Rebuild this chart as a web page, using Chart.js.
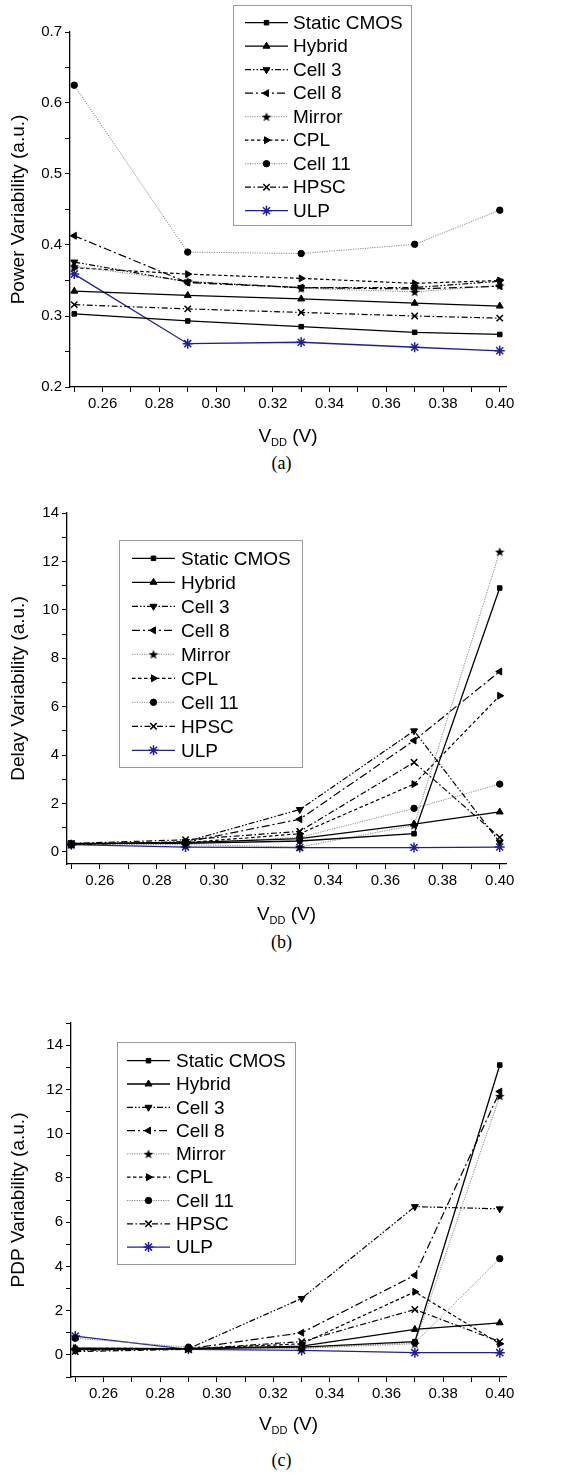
<!DOCTYPE html>
<html>
<head>
<meta charset="utf-8">
<script src="https://cdn.jsdelivr.net/npm/chart.js@4.4.0/dist/chart.umd.min.js"></script>
<style>
  body { margin: 0; background: #fff; width: 563px; height: 1484px; position: relative; overflow: hidden; }
  canvas { position: absolute; left: 0; }
  .caption { position: absolute; left: 0; width: 563px; text-align: center; font-family: "Liberation Serif", "Times New Roman", serif; font-size: 18px; line-height: 20px; }
</style>
</head>
<body>
<canvas id="powerChart" width="563" height="450" style="top:0"></canvas>
<div class="caption" style="top:453px">(a)</div>
<canvas id="delayChart" width="563" height="450" style="top:480px"></canvas>
<div class="caption" style="top:932px">(b)</div>
<canvas id="pdpChart" width="563" height="450" style="top:990px"></canvas>
<div class="caption" style="top:1450px">(c)</div>
<script>
const seriesNames = ["Static CMOS", "Hybrid", "Cell 3", "Cell 8", "Mirror", "CPL", "Cell 11", "HPSC", "ULP"];
const vdd = [0.25, 0.29, 0.33, 0.37, 0.40];

const vddTicks = [0.25, 0.26, 0.27, 0.28, 0.29, 0.30, 0.31, 0.32, 0.33, 0.34, 0.35, 0.36, 0.37, 0.38, 0.39, 0.40];
const vddTickLabels = ["", "0.26", "", "0.28", "", "0.30", "", "0.32", "", "0.34", "", "0.36", "", "0.38", "", "0.40"];

const powerTicks = [0.2, 0.25, 0.3, 0.35, 0.4, 0.45, 0.5, 0.55, 0.6, 0.65, 0.7];
const powerTickLabels = ["0.2", "", "0.3", "", "0.4", "", "0.5", "", "0.6", "", "0.7"];
const delayTicks = [0, 1, 2, 3, 4, 5, 6, 7, 8, 9, 10, 11, 12, 13, 14];
const delayTickLabels = ["0", "", "2", "", "4", "", "6", "", "8", "", "10", "", "12", "", "14"];
const pdpTicks = [-1, 0, 1, 2, 3, 4, 5, 6, 7, 8, 9, 10, 11, 12, 13, 14, 15];
const pdpTickLabels = ["", "0", "", "2", "", "4", "", "6", "", "8", "", "10", "", "12", "", "14", ""];

// power variability
const powerStaticCmos = [0.303, 0.293, 0.285, 0.277, 0.274];
const powerHybrid = [0.335, 0.329, 0.324, 0.318, 0.314];
const powerCell3 = [0.376, 0.348, 0.340, 0.340, 0.349];
const powerCell8 = [0.413, 0.347, 0.340, 0.338, 0.342];
const powerMirror = [0.370, 0.349, 0.339, 0.334, 0.343];
const powerCpl = [0.368, 0.359, 0.353, 0.346, 0.350];
const powerCell11 = [0.625, 0.390, 0.388, 0.401, 0.449];
const powerHpsc = [0.316, 0.310, 0.305, 0.300, 0.297];
const powerUlp = [0.359, 0.261, 0.263, 0.256, 0.251];

// delay variability
const delayStaticCmos = [0.35, 0.35, 0.45, 0.75, 10.9];
const delayHybrid = [0.33, 0.38, 0.55, 1.15, 1.65];
const delayCell3 = [0.30, 0.42, 1.75, 5.0, 0.4];
const delayCell8 = [0.32, 0.40, 1.35, 4.6, 7.45];
const delayMirror = [0.30, 0.30, 0.20, 1.1, 12.4];
const delayCpl = [0.33, 0.38, 0.75, 2.8, 6.45];
const delayCell11 = [0.30, 0.35, 0.60, 1.8, 2.8];
const delayHpsc = [0.35, 0.50, 0.85, 3.7, 0.6];
const delayUlp = [0.30, 0.20, 0.18, 0.18, 0.20];

// PDP variability
const pdpStaticCmos = [0.25, 0.28, 0.35, 0.6, 13.1];
const pdpHybrid = [0.30, 0.28, 0.40, 1.15, 1.45];
const pdpCell3 = [0.20, 0.28, 2.55, 6.7, 6.6];
const pdpCell8 = [0.25, 0.28, 1.0, 3.6, 11.9];
const pdpMirror = [0.25, 0.30, 0.30, 0.5, 11.7];
const pdpCpl = [0.30, 0.28, 0.50, 2.85, 0.5];
const pdpCell11 = [0.75, 0.35, 0.30, 0.55, 4.35];
const pdpHpsc = [0.15, 0.25, 0.60, 2.05, 0.6];
const pdpUlp = [0.85, 0.25, 0.20, 0.10, 0.10];

const family = "'Liberation Sans', Arial, sans-serif";

// filled five-point star used as the Mirror marker
const makeStar = (size) => {
  const c = document.createElement("canvas");
  c.width = size;
  c.height = size;
  const g = c.getContext("2d");
  const r = size / 2;
  g.beginPath();
  for (let i = 0; i < 10; i++) {
    const a = -Math.PI / 2 + (i * Math.PI) / 5;
    const rr = i % 2 ? r * 0.42 : r;
    g.lineTo(r + rr * Math.cos(a), r + 0.5 + rr * Math.sin(a));
  }
  g.closePath();
  g.fillStyle = "#000";
  g.fill();
  return c;
};
const starMarker = makeStar(10);

const seriesStyles = [
  { color: "#000", dash: [], width: 1.3, point: "rect", rot: 0, radius: 3.2 },
  { color: "#000", dash: [], width: 1.3, point: "triangle", rot: 0, radius: 4 },
  { color: "#000", dash: [6, 2, 1.5, 2, 1.5, 2], width: 1.2, point: "triangle", rot: 180, radius: 4 },
  { color: "#000", dash: [8, 3, 2, 3], width: 1.2, point: "triangle", rot: 270, radius: 4 },
  { color: "#888", dash: [1.2, 1.2], width: 1, point: starMarker, rot: 0, radius: 5 },
  { color: "#000", dash: [3.5, 2.5], width: 1.2, point: "triangle", rot: 90, radius: 4 },
  { color: "#888", dash: [1.2, 1.2], width: 1, point: "circle", rot: 0, radius: 3.2 },
  { color: "#000", dash: [6, 2.5, 1.5, 2.5], width: 1.2, point: "crossRot", rot: 0, radius: 4.5 },
  { color: "#1f1f9c", dash: [], width: 1.3, point: "star", rot: 0, radius: 5 },
];

const makeDatasets = (series) =>
  series.map((values, i) => {
    const s = seriesStyles[i];
    const markColor = i === 8 ? s.color : "#000";
    return {
      label: seriesNames[i],
      data: vdd.map((x, j) => ({ x, y: values[j] })),
      borderColor: s.color,
      borderWidth: s.width,
      borderDash: s.dash,
      pointStyle: s.point,
      pointRotation: s.rot,
      pointRadius: s.radius,
      pointBorderColor: markColor,
      pointBackgroundColor: markColor,
      pointBorderWidth: i >= 7 ? 1.5 : 1,
      tension: 0,
      fill: false,
      clip: false,
    };
  });

const boxLegend = {
  id: "boxLegend",
  afterDraw(chart, args, o) {
    const { ctx } = chart;
    ctx.save();
    ctx.fillStyle = "#fff";
    ctx.fillRect(o.x, o.y, o.w, o.h);
    ctx.strokeStyle = "#9a9a9a";
    ctx.lineWidth = 1;
    ctx.strokeRect(o.x + 0.5, o.y + 0.5, o.w, o.h);
    chart.data.datasets.forEach((ds, i) => {
      const cy = o.firstRow + i * o.rowH;
      ctx.strokeStyle = ds.borderColor;
      ctx.lineWidth = ds.borderWidth;
      ctx.setLineDash(ds.borderDash);
      ctx.beginPath();
      ctx.moveTo(o.lineX1, cy);
      ctx.lineTo(o.lineX2, cy);
      ctx.stroke();
      ctx.setLineDash([]);
      ctx.fillStyle = ds.pointBackgroundColor;
      ctx.strokeStyle = ds.pointBorderColor;
      ctx.lineWidth = ds.pointBorderWidth;
      Chart.helpers.drawPoint(ctx, {
        pointStyle: ds.pointStyle,
        rotation: ds.pointRotation,
        radius: ds.pointRadius,
        borderWidth: ds.pointBorderWidth,
      }, (o.lineX1 + o.lineX2) / 2, cy);
      ctx.fillStyle = "#000";
      ctx.font = `${o.size}px ${family}`;
      ctx.textAlign = "left";
      ctx.textBaseline = "middle";
      ctx.fillText(ds.label, o.textX, cy + 1);
    });
    ctx.restore();
  },
};

const axisTitles = {
  id: "axisTitles",
  afterDraw(chart, args, o) {
    const { ctx, chartArea: a } = chart;
    ctx.save();
    ctx.fillStyle = "#000";
    ctx.textBaseline = "middle";
    ctx.textAlign = "center";
    ctx.font = `${o.size}px ${family}`;
    ctx.translate(o.yTitleX, (a.top + a.bottom) / 2);
    ctx.rotate(-Math.PI / 2);
    ctx.fillText(o.yTitle, 0, 0);
    ctx.restore();

    // V with subscript DD, then (V)
    ctx.save();
    ctx.fillStyle = "#000";
    ctx.textBaseline = "middle";
    ctx.textAlign = "left";
    const big = `${o.size}px ${family}`;
    const small = `${Math.round(o.size * 0.6)}px ${family}`;
    ctx.font = big;
    const wV = ctx.measureText("V").width;
    const wTail = ctx.measureText(" (V)").width;
    ctx.font = small;
    const wSub = ctx.measureText("DD").width;
    let x = (a.left + a.right) / 2 - (wV + wSub + wTail) / 2;
    const y = o.xTitleY;
    ctx.font = big;
    ctx.fillText("V", x, y);
    x += wV;
    ctx.font = small;
    ctx.fillText("DD", x, y + 6);
    x += wSub;
    ctx.font = big;
    ctx.fillText(" (V)", x, y);
    ctx.restore();
  },
};

const buildChart = (id, series, yRange, yTicks, yTickLabels, area, titles, legend) => {
  const ctx = document.getElementById(id).getContext("2d");
  const tickFont = { family, size: 15 };
  return new Chart(ctx, {
    type: "line",
    data: { datasets: makeDatasets(series) },
    plugins: [axisTitles, boxLegend],
    options: {
      responsive: false,
      animation: false,
      layout: { padding: { top: area.top, right: 563 - area.right, left: 0, bottom: 0 } },
      plugins: {
        legend: { display: false },
        tooltip: { enabled: false },
        axisTitles: titles,
        boxLegend: legend,
      },
      scales: {
        x: {
          type: "linear",
          min: 0.2485,
          max: 0.4022,
          afterBuildTicks: (s) => { s.ticks = vddTicks.map((v) => ({ value: v })); },
          afterFit: (s) => { s.height = 450 - area.bottom; },
          ticks: {
            autoSkip: false,
            maxRotation: 0,
            padding: 3,
            color: "#000",
            font: tickFont,
            callback: (v, i) => vddTickLabels[i],
          },
          grid: { drawOnChartArea: false, tickLength: 5, tickColor: "#000", tickWidth: 1 },
          border: { color: "#000", width: 1.3 },
        },
        y: {
          min: yRange[0],
          max: yRange[1],
          afterBuildTicks: (s) => { s.ticks = yTicks.map((v) => ({ value: v })); },
          afterFit: (s) => { s.width = area.left; },
          ticks: {
            autoSkip: false,
            padding: 3,
            color: "#000",
            font: tickFont,
            callback: (v, i) => yTickLabels[i],
          },
          grid: { drawOnChartArea: false, tickLength: 5, tickColor: "#000", tickWidth: 1 },
          border: { color: "#000", width: 1.3 },
        },
      },
    },
  });
};

buildChart(
  "powerChart",
  [powerStaticCmos, powerHybrid, powerCell3, powerCell8, powerMirror, powerCpl, powerCell11, powerHpsc, powerUlp],
  [0.2, 0.7], powerTicks, powerTickLabels,
  { left: 70, right: 506, top: 32, bottom: 387 },
  { yTitle: "Power Variability (a.u.)", yTitleX: 19, xTitleY: 437, size: 19 },
  { x: 233, y: 5, w: 178, h: 220, firstRow: 22.7, rowH: 23.5, lineX1: 245, lineX2: 288, textX: 293, size: 19 }
);

buildChart(
  "delayChart",
  [delayStaticCmos, delayHybrid, delayCell3, delayCell8, delayMirror, delayCpl, delayCell11, delayHpsc, delayUlp],
  [-0.5, 14], delayTicks, delayTickLabels,
  { left: 67, right: 506, top: 33, bottom: 384 },
  { yTitle: "Delay Variability (a.u.)", yTitleX: 19, xTitleY: 435, size: 19 },
  { x: 119, y: 60, w: 183, h: 227, firstRow: 78.3, rowH: 24, lineX1: 132, lineX2: 175, textX: 181, size: 19 }
);

buildChart(
  "pdpChart",
  [pdpStaticCmos, pdpHybrid, pdpCell3, pdpCell8, pdpMirror, pdpCpl, pdpCell11, pdpHpsc, pdpUlp],
  [-1, 15], pdpTicks, pdpTickLabels,
  { left: 71, right: 506, top: 33, bottom: 387 },
  { yTitle: "PDP Variability (a.u.)", yTitleX: 19, xTitleY: 435, size: 19 },
  { x: 117, y: 52, w: 178, h: 222, firstRow: 70.7, rowH: 23.3, lineX1: 127, lineX2: 170, textX: 176, size: 19 }
);
</script>
</body>
</html>
